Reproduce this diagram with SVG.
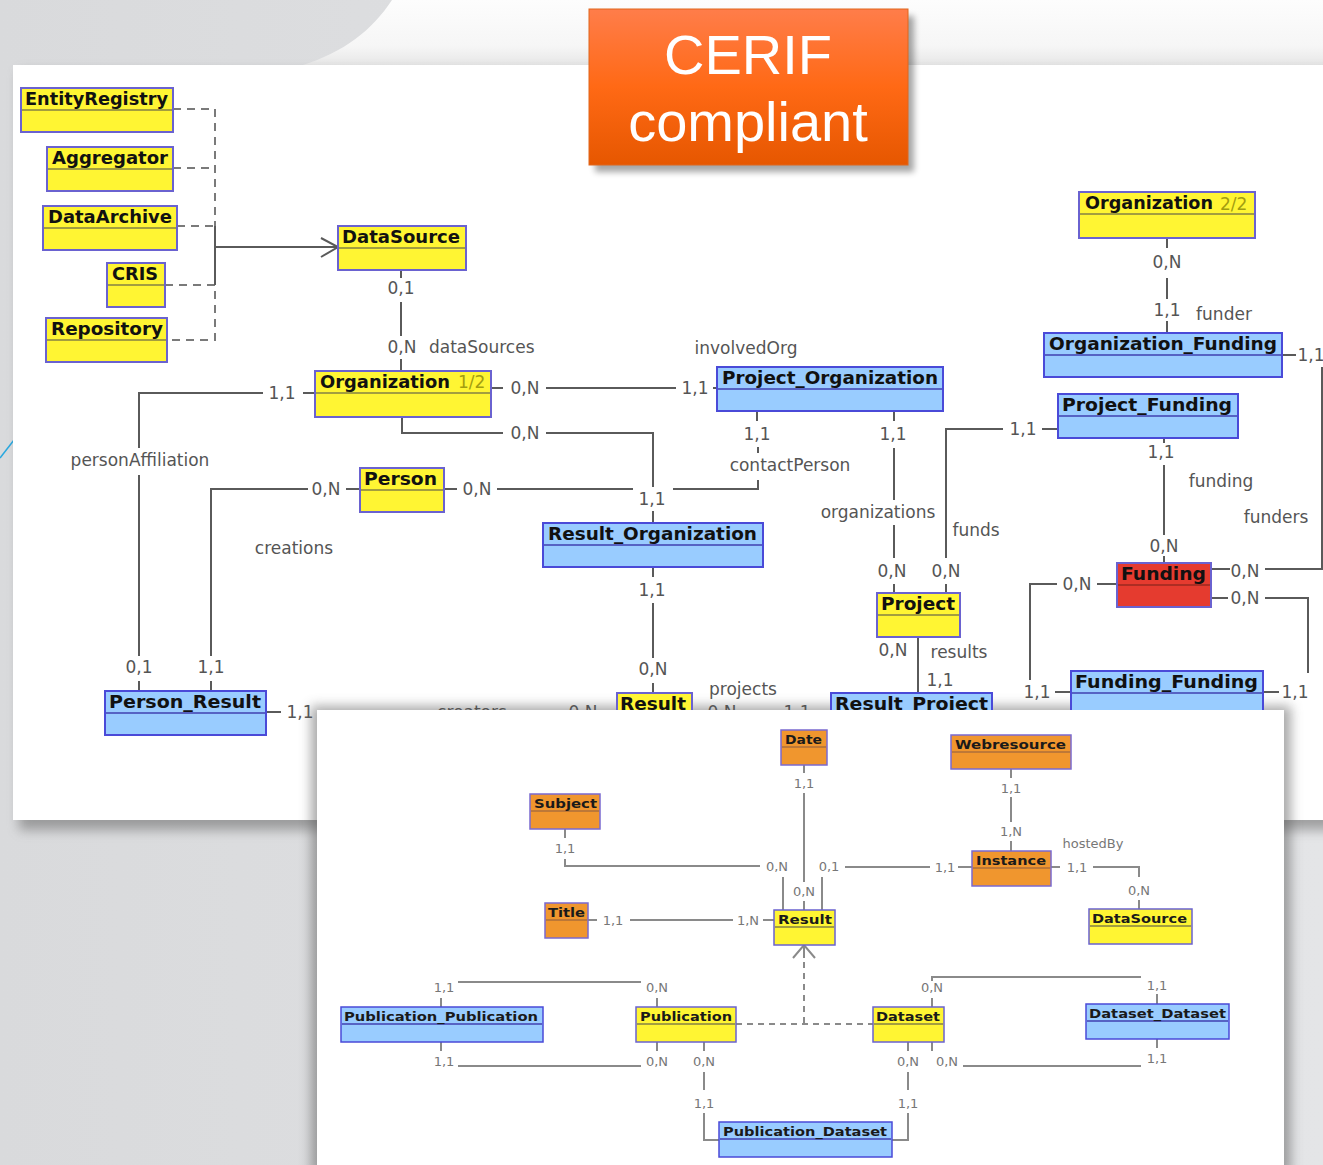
<svg xmlns="http://www.w3.org/2000/svg" width="1323" height="1165" viewBox="0 0 1323 1165">
<style>
.ln{stroke:#5a5a5a;stroke-width:2;fill:none}
.dash{stroke:#7a7a7a;stroke-width:2;stroke-dasharray:8 6;fill:none}
.lb{font-family:"DejaVu Sans",Verdana,sans-serif;font-size:17px;fill:#555;text-anchor:middle}
.lbs{font-family:"DejaVu Sans",Verdana,sans-serif;font-size:17px;fill:#555;text-anchor:start}
.t{font-family:"DejaVu Sans",Verdana,sans-serif;font-weight:bold;font-size:18px;fill:#111}
.frac{font-family:"DejaVu Sans",Verdana,sans-serif;font-size:17px;fill:#a39d10}
.bln{stroke:#8a8a8a;stroke-width:2;fill:none}
.bdash{stroke:#8a8a8a;stroke-width:2;stroke-dasharray:6 5;fill:none}
.blb{font-family:"DejaVu Sans",Verdana,sans-serif;font-size:13px;fill:#777;text-anchor:middle}
.bt{font-family:"DejaVu Sans",Verdana,sans-serif;font-weight:bold;font-size:13px;fill:#1a1a1a}
.y{fill:#fff533;stroke:#6a62d0;stroke-width:2}
.b{fill:#99ccff;stroke:#4a4ad8;stroke-width:2}
.o{fill:#f0962e;stroke:#7a6ad0;stroke-width:1.5}
.r{fill:#e53b2f;stroke:#6a62d0;stroke-width:2}
.sy{stroke:#858045;stroke-width:1.5}
.sb{stroke:#4040b0;stroke-width:1.5}
.so{stroke:#8a5a40;stroke-width:1.2}
.sr{stroke:#9a2a20;stroke-width:1.5}
</style>
<defs>
<linearGradient id="bgTop" x1="0" y1="0" x2="0" y2="1"><stop offset="0" stop-color="#fdfdfd"/><stop offset="0.7" stop-color="#f6f6f6"/><stop offset="1" stop-color="#e6e6e6"/></linearGradient>
<linearGradient id="bgLeft" x1="0" y1="0" x2="1" y2="0"><stop offset="0" stop-color="#d9dadc"/><stop offset="1" stop-color="#e4e5e7"/></linearGradient>
<linearGradient id="cerifG" x1="0" y1="0" x2="0" y2="1"><stop offset="0" stop-color="#ff7d4a"/><stop offset="0.5" stop-color="#ff6915"/><stop offset="1" stop-color="#e65700"/></linearGradient>
<filter id="sh" x="-10%" y="-10%" width="120%" height="120%"><feGaussianBlur stdDeviation="6"/></filter>
<filter id="sh2" x="-10%" y="-10%" width="120%" height="130%"><feGaussianBlur stdDeviation="3"/></filter>
<clipPath id="clipTop"><path clip-rule="evenodd" d="M0 0H1323V1165H0Z M317 710V1165H1284V710Z"/></clipPath>
</defs>

<!-- background -->
<rect width="1323" height="1165" fill="url(#bgLeft)"/>
<path d="M392 0 C372 30 345 52 300 66 L1323 66 L1323 0 Z" fill="url(#bgTop)"/>
<line x1="14" y1="440" x2="0" y2="458" stroke="#29a8df" stroke-width="1.5"/>

<!-- top panel -->
<rect x="19" y="72" width="1320" height="758" fill="#666" opacity="0.55" filter="url(#sh)"/>
<rect x="13" y="65" width="1320" height="755" fill="#ffffff"/>

<!-- bottom panel -->
<rect x="311" y="706" width="980" height="470" fill="#555" opacity="0.5" filter="url(#sh)"/>
<rect x="317" y="710" width="967" height="460" fill="#ffffff"/>

<g id="connectors">
 <g id="connectors-top" clip-path="url(#clipTop)">
  <path class="dash" d="M173 109H215V340H167M173 168H215M177 226H215M165 285H215"/>
  <path class="ln" d="M215 226V285M215 247H337M321 238L338 247L321 257"/>
  <path class="ln" d="M401 271V278M401 302V336M401 359V371"/>
  <path class="ln" d="M491 388H503M546 388H676M713 388H718"/>
  <path class="ln" d="M315 393H303M263 393H139V448M139 475V656M139 681V691"/>
  <path class="ln" d="M402 417V433H503M546 433H653V487M653 511V523"/>
  <path class="ln" d="M360 489H346M308 489H211V656M211 681V691"/>
  <path class="ln" d="M444 489H457M497 489H633"/>
  <path class="ln" d="M673 489H758V480M758 447V453M757 411V421"/>
  <path class="ln" d="M894 411V421M894 448V500M894 525V558M894 584V593"/>
  <path class="ln" d="M946 593V584M946 558V429H1003M1042 429H1058"/>
  <path class="ln" d="M918 637V693"/>
  <path class="ln" d="M653 567V577M653 603V658M653 683V693"/>
  <path class="ln" d="M266 712H281M513 713H560M598 712H616M692 712H706M735 712H782"/>
  <path class="ln" d="M1167 238V248M1167 278V299M1167 321V333"/>
  <path class="ln" d="M1282 355H1296M1322 367V569H1265M1230 569H1211"/>
  <path class="ln" d="M1211 598H1228M1265 598H1308V673"/>
  <path class="ln" d="M1117 584H1097M1057 584H1030V680M1055 692H1071"/>
  <path class="ln" d="M1263 692H1279"/>
  <path class="ln" d="M1164 438V443M1164 465V535M1164 556V563"/>
  <text class="lb" x="401" y="294">0,1</text>
  <text class="lb" x="402" y="353">0,N</text>
  <text class="lbs" x="429" y="353">dataSources</text>
  <text class="lb" x="746" y="354">involvedOrg</text>
  <text class="lb" x="282" y="399">1,1</text>
  <text class="lb" x="525" y="394">0,N</text>
  <text class="lb" x="695" y="394">1,1</text>
  <text class="lb" x="525" y="439">0,N</text>
  <text class="lb" x="140" y="466">personAffiliation</text>
  <text class="lb" x="326" y="495">0,N</text>
  <text class="lb" x="477" y="495">0,N</text>
  <text class="lb" x="652" y="505">1,1</text>
  <text class="lb" x="757" y="440">1,1</text>
  <text class="lb" x="790" y="471">contactPerson</text>
  <text class="lb" x="893" y="440">1,1</text>
  <text class="lb" x="878" y="518">organizations</text>
  <text class="lb" x="892" y="577">0,N</text>
  <text class="lb" x="946" y="577">0,N</text>
  <text class="lb" x="976" y="536">funds</text>
  <text class="lb" x="1023" y="435">1,1</text>
  <text class="lb" x="294" y="554">creations</text>
  <text class="lb" x="652" y="596">1,1</text>
  <text class="lb" x="653" y="675">0,N</text>
  <text class="lb" x="139" y="673">0,1</text>
  <text class="lb" x="211" y="673">1,1</text>
  <text class="lb" x="300" y="718">1,1</text>
  <text class="lb" x="472" y="718">creators</text>
  <text class="lb" x="583" y="718">0,N</text>
  <text class="lb" x="743" y="695">projects</text>
  <text class="lb" x="722" y="718">0,N</text>
  <text class="lb" x="797" y="718">1,1</text>
  <text class="lb" x="893" y="656">0,N</text>
  <text class="lb" x="959" y="658">results</text>
  <text class="lb" x="940" y="686">1,1</text>
  <text class="lb" x="1167" y="268">0,N</text>
  <text class="lb" x="1167" y="316">1,1</text>
  <text class="lb" x="1224" y="320">funder</text>
  <text class="lb" x="1311" y="361">1,1</text>
  <text class="lb" x="1161" y="458">1,1</text>
  <text class="lb" x="1221" y="487">funding</text>
  <text class="lb" x="1276" y="523">funders</text>
  <text class="lb" x="1164" y="552">0,N</text>
  <text class="lb" x="1077" y="590">0,N</text>
  <text class="lb" x="1245" y="577">0,N</text>
  <text class="lb" x="1245" y="604">0,N</text>
  <text class="lb" x="1037" y="698">1,1</text>
  <text class="lb" x="1295" y="698">1,1</text>
 </g>
 <g id="connectors-bottom">
  <path class="bln" d="M804 765V773M804 793V882M804 901V910"/>
  <path class="bln" d="M565 829V838M565 859V866H760M783 877V910"/>
  <path class="bln" d="M822 910V877M845 867H930M958 867H972"/>
  <path class="bln" d="M588 920H597M630 920H733M763 920H774"/>
  <path class="bln" d="M1011 769V778M1011 797V822M1011 841V851"/>
  <path class="bln" d="M1051 867H1060M1093 867H1139V877M1139 900V909"/>
  <path class="bln" d="M793 958L804 945L815 958M804 946V958"/>
  <path class="bdash" d="M804 962V1024M736 1024H873"/>
  <path class="bln" d="M441 1007V998M458 982H641M657 998V1007"/>
  <path class="bln" d="M441 1042V1051M458 1066H641M657 1042V1051"/>
  <path class="bln" d="M704 1042V1051M704 1072V1090M704 1113V1140H719"/>
  <path class="bln" d="M908 1042V1051M908 1072V1090M908 1113V1140H892"/>
  <path class="bln" d="M932 1042V1051M963 1066H1141M1157 1039V1048"/>
  <path class="bln" d="M932 1007V998M932 981V977H1141M1157 994V1004"/>
  <text class="blb" x="804" y="788">1,1</text>
  <text class="blb" x="804" y="896">0,N</text>
  <text class="blb" x="565" y="853">1,1</text>
  <text class="blb" x="777" y="871">0,N</text>
  <text class="blb" x="829" y="871">0,1</text>
  <text class="blb" x="945" y="872">1,1</text>
  <text class="blb" x="613" y="925">1,1</text>
  <text class="blb" x="748" y="925">1,N</text>
  <text class="blb" x="1011" y="793">1,1</text>
  <text class="blb" x="1011" y="836">1,N</text>
  <text class="blb" x="1093" y="848">hostedBy</text>
  <text class="blb" x="1077" y="872">1,1</text>
  <text class="blb" x="1139" y="895">0,N</text>
  <text class="blb" x="444" y="992">1,1</text>
  <text class="blb" x="657" y="992">0,N</text>
  <text class="blb" x="444" y="1066">1,1</text>
  <text class="blb" x="657" y="1066">0,N</text>
  <text class="blb" x="704" y="1066">0,N</text>
  <text class="blb" x="704" y="1108">1,1</text>
  <text class="blb" x="908" y="1108">1,1</text>
  <text class="blb" x="908" y="1066">0,N</text>
  <text class="blb" x="947" y="1066">0,N</text>
  <text class="blb" x="1157" y="1063">1,1</text>
  <text class="blb" x="932" y="992">0,N</text>
  <text class="blb" x="1157" y="990">1,1</text>
 </g>
</g>

<!-- top nodes -->
<g id="nodes-top" clip-path="url(#clipTop)">
 <g id="EntityRegistry"><rect class="y" x="21" y="88" width="152" height="44"/><line class="sy" x1="22" y1="110" x2="172" y2="110"/><text class="t" x="25" y="105" textLength="143" lengthAdjust="spacingAndGlyphs">EntityRegistry</text></g>
 <g id="Aggregator"><rect class="y" x="47" y="147" width="126" height="44"/><line class="sy" x1="48" y1="169" x2="172" y2="169"/><text class="t" x="52" y="164" textLength="116" lengthAdjust="spacingAndGlyphs">Aggregator</text></g>
 <g id="DataArchive"><rect class="y" x="43" y="206" width="134" height="44"/><line class="sy" x1="44" y1="228" x2="176" y2="228"/><text class="t" x="48" y="223" textLength="124" lengthAdjust="spacingAndGlyphs">DataArchive</text></g>
 <g id="CRIS"><rect class="y" x="107" y="263" width="58" height="44"/><line class="sy" x1="108" y1="285" x2="164" y2="285"/><text class="t" x="112" y="280" textLength="46" lengthAdjust="spacingAndGlyphs">CRIS</text></g>
 <g id="Repository"><rect class="y" x="46" y="318" width="121" height="44"/><line class="sy" x1="47" y1="340" x2="166" y2="340"/><text class="t" x="51" y="335" textLength="112" lengthAdjust="spacingAndGlyphs">Repository</text></g>
 <g id="DataSource"><rect class="y" x="338" y="226" width="128" height="44"/><line class="sy" x1="339" y1="248" x2="465" y2="248"/><text class="t" x="342" y="243" textLength="118" lengthAdjust="spacingAndGlyphs">DataSource</text></g>
 <g id="Organization-1"><rect class="y" x="315" y="371" width="176" height="46"/><line class="sy" x1="316" y1="393" x2="490" y2="393"/><text class="t" x="320" y="388" textLength="130" lengthAdjust="spacingAndGlyphs">Organization</text><text class="frac" x="458" y="388">1/2</text></g>
 <g id="Project_Organization"><rect class="b" x="717" y="367" width="226" height="44"/><line class="sb" x1="718" y1="389" x2="942" y2="389"/><text class="t" x="722" y="384" textLength="216" lengthAdjust="spacingAndGlyphs">Project_Organization</text></g>
 <g id="Organization-2"><rect class="y" x="1079" y="192" width="176" height="46"/><line class="sy" x1="1080" y1="214" x2="1254" y2="214"/><text class="t" x="1085" y="209" textLength="128" lengthAdjust="spacingAndGlyphs">Organization</text><text class="frac" x="1220" y="210">2/2</text></g>
 <g id="Organization_Funding"><rect class="b" x="1044" y="333" width="238" height="44"/><line class="sb" x1="1045" y1="355" x2="1281" y2="355"/><text class="t" x="1049" y="350" textLength="228" lengthAdjust="spacingAndGlyphs">Organization_Funding</text></g>
 <g id="Project_Funding"><rect class="b" x="1058" y="394" width="180" height="44"/><line class="sb" x1="1059" y1="416" x2="1237" y2="416"/><text class="t" x="1062" y="411" textLength="170" lengthAdjust="spacingAndGlyphs">Project_Funding</text></g>
 <g id="Person"><rect class="y" x="360" y="468" width="84" height="44"/><line class="sy" x1="361" y1="490" x2="443" y2="490"/><text class="t" x="364" y="485" textLength="73" lengthAdjust="spacingAndGlyphs">Person</text></g>
 <g id="Result_Organization"><rect class="b" x="543" y="523" width="220" height="44"/><line class="sb" x1="544" y1="545" x2="762" y2="545"/><text class="t" x="548" y="540" textLength="209" lengthAdjust="spacingAndGlyphs">Result_Organization</text></g>
 <g id="Project"><rect class="y" x="877" y="593" width="83" height="44"/><line class="sy" x1="878" y1="615" x2="959" y2="615"/><text class="t" x="881" y="610" textLength="74" lengthAdjust="spacingAndGlyphs">Project</text></g>
 <g id="Funding"><rect class="r" x="1117" y="563" width="94" height="44"/><line class="sr" x1="1118" y1="585" x2="1210" y2="585"/><text class="t" x="1121" y="580" textLength="85" lengthAdjust="spacingAndGlyphs">Funding</text></g>
 <g id="Funding_Funding"><rect class="b" x="1071" y="671" width="192" height="44"/><line class="sb" x1="1072" y1="693" x2="1262" y2="693"/><text class="t" x="1075" y="688" textLength="183" lengthAdjust="spacingAndGlyphs">Funding_Funding</text></g>
 <g id="Person_Result"><rect class="b" x="105" y="691" width="161" height="44"/><line class="sb" x1="106" y1="713" x2="265" y2="713"/><text class="t" x="109" y="708" textLength="152" lengthAdjust="spacingAndGlyphs">Person_Result</text></g>
 <g id="Result-top"><rect class="y" x="617" y="693" width="75" height="44"/><text class="t" x="620" y="710" textLength="66" lengthAdjust="spacingAndGlyphs">Result</text></g>
 <g id="Result_Project"><rect class="b" x="831" y="693" width="161" height="44"/><text class="t" x="835" y="710" textLength="153" lengthAdjust="spacingAndGlyphs">Result_Project</text></g>
</g>

<!-- bottom nodes -->
<g id="nodes-bottom">
 <g id="Date"><rect class="o" x="781" y="730" width="46" height="35"/><line class="so" x1="782" y1="747" x2="826" y2="747"/><text class="bt" x="785" y="744" textLength="37" lengthAdjust="spacingAndGlyphs">Date</text></g>
 <g id="Webresource"><rect class="o" x="951" y="735" width="120" height="34"/><line class="so" x1="952" y1="752" x2="1070" y2="752"/><text class="bt" x="955" y="749" textLength="111" lengthAdjust="spacingAndGlyphs">Webresource</text></g>
 <g id="Subject"><rect class="o" x="530" y="794" width="70" height="35"/><line class="so" x1="531" y1="811" x2="599" y2="811"/><text class="bt" x="534" y="808" textLength="63" lengthAdjust="spacingAndGlyphs">Subject</text></g>
 <g id="Instance"><rect class="o" x="972" y="851" width="79" height="35"/><line class="so" x1="973" y1="868" x2="1050" y2="868"/><text class="bt" x="976" y="865" textLength="70" lengthAdjust="spacingAndGlyphs">Instance</text></g>
 <g id="Title"><rect class="o" x="545" y="903" width="43" height="35"/><line class="so" x1="546" y1="920" x2="587" y2="920"/><text class="bt" x="548" y="917" textLength="37" lengthAdjust="spacingAndGlyphs">Title</text></g>
 <g id="Result"><rect class="y" x="774" y="910" width="61" height="35" style="stroke-width:1.5"/><line class="sy" x1="775" y1="927" x2="834" y2="927"/><text class="bt" x="778" y="924" textLength="54" lengthAdjust="spacingAndGlyphs">Result</text></g>
 <g id="DataSource-b"><rect class="y" x="1089" y="909" width="103" height="35" style="stroke-width:1.5"/><line class="sy" x1="1090" y1="926" x2="1191" y2="926"/><text class="bt" x="1092" y="923" textLength="95" lengthAdjust="spacingAndGlyphs">DataSource</text></g>
 <g id="Publication_Publication"><rect class="b" x="341" y="1007" width="202" height="35" style="stroke-width:1.5"/><line class="sb" x1="342" y1="1024" x2="542" y2="1024"/><text class="bt" x="344" y="1021" textLength="194" lengthAdjust="spacingAndGlyphs">Publication_Publication</text></g>
 <g id="Publication"><rect class="y" x="636" y="1007" width="100" height="35" style="stroke-width:1.5"/><line class="sy" x1="637" y1="1024" x2="735" y2="1024"/><text class="bt" x="640" y="1021" textLength="92" lengthAdjust="spacingAndGlyphs">Publication</text></g>
 <g id="Dataset"><rect class="y" x="873" y="1007" width="71" height="35" style="stroke-width:1.5"/><line class="sy" x1="874" y1="1024" x2="943" y2="1024"/><text class="bt" x="876" y="1021" textLength="64" lengthAdjust="spacingAndGlyphs">Dataset</text></g>
 <g id="Dataset_Dataset"><rect class="b" x="1086" y="1004" width="143" height="35" style="stroke-width:1.5"/><line class="sb" x1="1087" y1="1021" x2="1228" y2="1021"/><text class="bt" x="1089" y="1018" textLength="137" lengthAdjust="spacingAndGlyphs">Dataset_Dataset</text></g>
 <g id="Publication_Dataset"><rect class="b" x="719" y="1122" width="173" height="35" style="stroke-width:1.5"/><line class="sb" x1="720" y1="1139" x2="891" y2="1139"/><text class="bt" x="723" y="1136" textLength="164" lengthAdjust="spacingAndGlyphs">Publication_Dataset</text></g>
</g>

<!-- CERIF badge -->
<g id="cerif-badge">
 <rect x="595" y="16" width="319" height="156" fill="#000" opacity="0.35" filter="url(#sh2)"/>
 <rect x="589" y="9" width="319" height="156" fill="url(#cerifG)" stroke="#e0661c" stroke-width="1"/>
 <text x="748" y="74" font-family="'Liberation Sans',Arial,sans-serif" font-size="56" fill="#ffffff" text-anchor="middle">CERIF</text>
 <text x="748" y="141" font-family="'Liberation Sans',Arial,sans-serif" font-size="56" fill="#ffffff" text-anchor="middle">compliant</text>
</g>
</svg>
